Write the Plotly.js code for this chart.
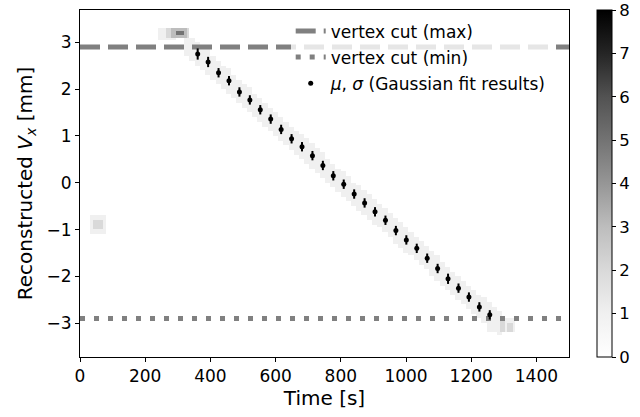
<!DOCTYPE html>
<html>
<head>
<meta charset="utf-8">
<script src="https://cdn.plot.ly/plotly-3.0.1.min.js"></script>
<style>html,body{margin:0;padding:0;background:#fff;}#chart{width:640px;height:417px;}</style>
</head>
<body>
<div id="chart"></div>
<script>
// ---- Gaussian fit results (time [s], mean [mm], sigma [mm]) ----
var fitT = [361,393,425,457,489,521,553,585,617,649,681,713,745,777,809,841,873,905,937,969,1001,1033,1065,1097,1129,1161,1193,1225,1257];
var fitMu = [2.75,2.58,2.35,2.18,1.94,1.77,1.56,1.36,1.14,0.94,0.77,0.58,0.37,0.15,-0.03,-0.24,-0.43,-0.62,-0.80,-1.02,-1.22,-1.40,-1.61,-1.83,-2.05,-2.25,-2.44,-2.65,-2.82];
var fitSigma = [0.12,0.11,0.1,0.1,0.1,0.1,0.1,0.1,0.1,0.1,0.1,0.1,0.1,0.1,0.1,0.1,0.1,0.1,0.1,0.1,0.1,0.1,0.1,0.1,0.11,0.1,0.1,0.1,0.1];

// ---- vertex cuts ----
var cutT = [0, 1500];
var cutMax = [2.9, 2.9];
var cutMin = [-2.9, -2.9];

// ---- 2D histogram of hits: diagonal band (column time centre, band centre Vx, counts) ----
var bandT = [329,345,361,377,393,409,425,441,457,473,489,505,521,537,553,569,585,601,617,633,649,665,681,697,713,729,745,761,777,793,809,825,841,857,873,889,905,921,937,953,969,985,1001,1017,1033,1049,1065,1081,1097,1113,1129,1145,1161,1177,1193,1209,1225,1241,1257,1273,1289];
var bandMu = [2.95,2.85,2.75,2.66,2.58,2.46,2.35,2.26,2.18,2.06,1.94,1.85,1.77,1.66,1.56,1.46,1.36,1.25,1.14,1.04,0.94,0.85,0.77,0.67,0.58,0.47,0.37,0.26,0.15,0.06,-0.03,-0.13,-0.24,-0.33,-0.43,-0.52,-0.62,-0.71,-0.80,-0.91,-1.02,-1.12,-1.22,-1.31,-1.40,-1.50,-1.61,-1.72,-1.83,-1.94,-2.05,-2.15,-2.25,-2.34,-2.44,-2.54,-2.65,-2.73,-2.82,-2.92,-3.0];
var bandN = 1;

// ---- 2D histogram of hits: clusters (t from, t to, Vx from, Vx to, counts) ----
var blobT0 = [240,262,280,295,30,40,1250,1290,1315];
var blobT1 = [292,332,326,318,78,70,1335,1300,1325];
var blobV0 = [3.06,3.08,3.12,3.15,-1.12,-1.0,-3.18,-3.2,-3.2];
var blobV1 = [3.30,3.32,3.28,3.25,-0.72,-0.78,-2.92,-2.95,-3.0];
var blobN = [1,2,3,5,1,2,1,2,2];

// ---- colour bar ticks ----
var cbTicks = [0,1,2,3,4,5,6,7,8];

// build histogram grid table from the arrays above
var dx = 8, dy = 0.05, nx = 188, ny = 150, x0 = 0, y0 = -3.75, colW = 8, bandHalf = 0.26;
var xs = [], ys = [], z = [];
for (var i = 0; i < nx; i++) xs.push(x0 + dx * (i + 0.5));
for (var j = 0; j < ny; j++) ys.push(y0 + dy * (j + 0.5));
for (var j = 0; j < ny; j++) { var row = []; for (var i = 0; i < nx; i++) row.push(0); z.push(row); }
function paint(t0, t1, v0, v1, n) {
  for (var j = 0; j < ny; j++) {
    if (ys[j] < v0 || ys[j] > v1) continue;
    for (var i = 0; i < nx; i++) {
      if (xs[i] < t0 || xs[i] > t1) continue;
      if (z[j][i] < n) z[j][i] = n;
    }
  }
}
for (var k = 0; k < bandT.length; k++) paint(bandT[k] - colW, bandT[k] + colW, bandMu[k] - bandHalf, bandMu[k] + bandHalf, bandN);
for (var k = 0; k < blobT0.length; k++) paint(blobT0[k], blobT1[k], blobV0[k], blobV1[k], blobN[k]);

var greys = [[0,'#ffffff'],[0.125,'#f0f0f0'],[0.25,'#d9d9d9'],[0.375,'#bdbdbd'],[0.5,'#969696'],[0.625,'#737373'],[0.75,'#525252'],[0.875,'#252525'],[1,'#000000']];
var FONT = 'DejaVu Sans, sans-serif';
var TICK = 17, TITLE = 20;

var traces = [
  {
    type: 'heatmap', x: xs, y: ys, z: z, zmin: 0, zmax: 8,
    colorscale: greys, showscale: true, hoverinfo: 'skip', showlegend: false,
    colorbar: {
      x: 1.055, xanchor: 'left', xref: 'paper', y: 0, yanchor: 'bottom', len: 1, lenmode: 'fraction',
      thickness: 15, thicknessmode: 'pixels', outlinewidth: 1, outlinecolor: '#000',
      tickvals: cbTicks, ticktext: cbTicks.map(String), ticks: 'outside', ticklen: 4, tickcolor: '#000',
      tickfont: {family: FONT, size: 16.5, color: '#000'}, xpad: 0, ypad: 0
    }
  },
  {
    type: 'scatter', mode: 'lines', x: cutT, y: cutMax, name: 'vertex cut (max)',
    line: {color: '#808080', width: 5, dash: '20px,8px'}, legendgroup: 'a', hoverinfo: 'skip'
  },
  {
    type: 'scatter', mode: 'lines', x: cutT, y: cutMin, name: 'vertex cut (min)',
    line: {color: '#808080', width: 5, dash: '5px,9px'}, legendgroup: 'b', hoverinfo: 'skip'
  },
  {
    type: 'scatter', mode: 'markers', x: fitT, y: fitMu, name: '<i>μ</i>, <i>σ</i> (Gaussian fit results)',
    marker: {color: '#000', size: 5},
    error_y: {type: 'data', array: fitSigma, visible: true, color: '#000', thickness: 2, width: 0},
    legendgroup: 'c', hoverinfo: 'skip'
  }
];

var layout = {
  width: 640, height: 417,
  margin: {l: 80, r: 70, t: 10, b: 60},
  paper_bgcolor: '#fff', plot_bgcolor: '#fff',
  font: {family: FONT, size: TICK, color: '#000'},
  showlegend: true,
  legend: {
    x: 0.43, xanchor: 'left', y: 0.99, yanchor: 'top',
    bgcolor: 'rgba(255,255,255,0.8)', borderwidth: 0,
    font: {family: FONT, size: TICK, color: '#000'},
    traceorder: 'grouped', tracegroupgap: 1
  },
  xaxis: {
    range: [0, 1500], tickvals: [0,200,400,600,800,1000,1200,1400],
    ticks: 'outside', ticklen: 4, tickwidth: 1, tickcolor: '#000',
    showline: true, linecolor: '#000', linewidth: 1, mirror: true,
    showgrid: false, zeroline: false,
    tickfont: {family: FONT, size: TICK},
    title: {text: 'Time [s]', font: {family: FONT, size: TITLE}, standoff: 5}
  },
  yaxis: {
    range: [-3.72, 3.69], tickvals: [-3,-2,-1,0,1,2,3], ticktext: ['\u22123','\u22122','\u22121','0','1','2','3'],
    ticks: 'outside', ticklen: 4, tickwidth: 1, tickcolor: '#000',
    showline: true, linecolor: '#000', linewidth: 1, mirror: true,
    showgrid: false, zeroline: false,
    tickfont: {family: FONT, size: TICK},
    title: {text: 'Reconstructed <i>V</i><sub><i>x</i></sub> [mm]', font: {family: FONT, size: TITLE}, standoff: 8}
  }
};

Plotly.newPlot('chart', traces, layout, {staticPlot: true, displayModeBar: false});
</script>
</body>
</html>
